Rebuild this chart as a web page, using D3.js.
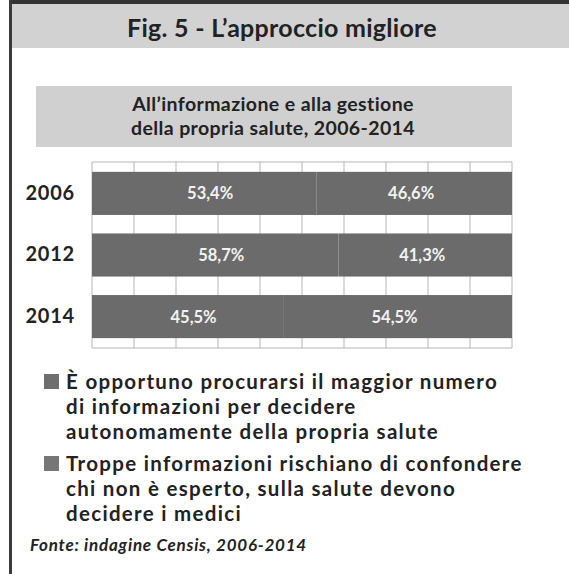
<!DOCTYPE html>
<html>
  <head>
    <meta charset="utf-8" />
    <title>Fig. 5 - L'approccio migliore</title>
    <style>
      html, body { margin: 0; padding: 0; background: #fff; }
      body { font-family: 'Lato', 'Open Sans', sans-serif; }
    </style>
    <script src="https://d3js.org/d3.v7.min.js"></script>
  </head>
  <body>
    <div id="chart"></div>
    <script>
      // data
      const years = ["2006", "2012", "2014"];
      const autonomi = [53.4, 58.7, 45.5];
      const medici = [46.6, 41.3, 54.5];
      const title = "Fig. 5 - L\u2019approccio migliore";
      const subtitle = ["All\u2019informazione e alla gestione", "della propria salute, 2006-2014"];
      const legendLines = [
        ["\u00C8 opportuno procurarsi il maggior numero", "di informazioni per decidere", "autonomamente della propria salute"],
        ["Troppe informazioni rischiano di confondere", "chi non \u00E8 esperto, sulla salute devono", "decidere i medici"]
      ];
      const source = "Fonte: indagine Censis, 2006-2014";

      const W = 569, H = 574;
      const svg = d3.select("#chart").append("svg")
        .attr("width", W).attr("height", H);

      // spread letters so a text reaches the width it has in the figure
      function spread(node, target) {
        const w = node.getComputedTextLength();
        const n = node.textContent.length;
        return (target - w) / n;
      }

      // frame: top rule, title band, left rule
      svg.append("rect").attr("x", 12).attr("y", 3).attr("width", W - 12).attr("height", 45)
        .attr("fill", "#d2d2d2");
      svg.append("rect").attr("x", 9).attr("y", 0).attr("width", W - 9).attr("height", 4)
        .attr("fill", "#333");
      svg.append("rect").attr("x", 9).attr("y", 0).attr("width", 3).attr("height", H)
        .attr("fill", "#3a3a3a");

      const t = svg.append("text")
        .attr("x", 282).attr("y", 37)
        .attr("text-anchor", "middle")
        .attr("font-size", 25).attr("font-weight", 700)
        .attr("fill", "#222")
        .text(title);
      t.attr("letter-spacing", spread(t.node(), 310));

      // subtitle box
      svg.append("rect").attr("x", 36).attr("y", 86).attr("width", 476).attr("height", 61)
        .attr("fill", "#d0d0d0");
      const sub = svg.append("g").selectAll("text").data(subtitle).join("text")
        .attr("x", 273).attr("y", (d, i) => 111 + i * 24)
        .attr("text-anchor", "middle")
        .attr("font-size", 19.5).attr("font-weight", 700)
        .attr("fill", "#222")
        .text(d => d);
      sub.attr("letter-spacing", spread(sub.node(), 282));

      // bar chart
      const x = d3.scaleLinear().domain([0, 100]).range([92, 512]);
      const y = d3.scaleBand().domain(years).range([162, 348])
        .paddingInner(0.3).paddingOuter(0.16);

      // grid
      const grid = svg.append("g");
      grid.selectAll("line.v").data(x.ticks(10)).join("line")
        .attr("class", "v")
        .attr("x1", d => x(d)).attr("x2", d => x(d))
        .attr("y1", 162).attr("y2", 348)
        .attr("stroke", "#b5b5b5").attr("stroke-width", 1);
      grid.selectAll("line.h").data([162, 348]).join("line")
        .attr("class", "h")
        .attr("x1", x(0)).attr("x2", x(100))
        .attr("y1", d => d).attr("y2", d => d)
        .attr("stroke", "#b5b5b5").attr("stroke-width", 1);

      const rows = years.map((yr, i) => ({ year: yr, a: autonomi[i], m: medici[i] }));
      const fmt = v => d3.format(".1f")(v).replace(".", ",") + "%";

      const row = svg.append("g").selectAll("g").data(rows).join("g");

      row.append("rect")
        .attr("x", x(0)).attr("y", d => y(d.year))
        .attr("width", d => x(d.a) - x(0)).attr("height", y.bandwidth())
        .attr("fill", "#6b6b6b");
      row.append("rect")
        .attr("x", d => x(d.a)).attr("y", d => y(d.year))
        .attr("width", d => x(d.a + d.m) - x(d.a)).attr("height", y.bandwidth())
        .attr("fill", "#6b6b6b");

      row.append("text")
        .attr("x", d => (x(0) + x(d.a)) / 2 + 6)
        .attr("y", d => y(d.year) + y.bandwidth() / 2 + 6)
        .attr("text-anchor", "middle")
        .attr("font-size", 16.5).attr("font-weight", 700)
        .attr("fill", "#f2f2f2")
        .text(d => fmt(d.a));
      row.append("text")
        .attr("x", d => (x(d.a) + x(d.a + d.m)) / 2 - 3)
        .attr("y", d => y(d.year) + y.bandwidth() / 2 + 6)
        .attr("text-anchor", "middle")
        .attr("font-size", 16.5).attr("font-weight", 700)
        .attr("fill", "#f2f2f2")
        .text(d => fmt(d.m));

      // year labels
      svg.append("g")
        .attr("transform", `translate(${x(0) - 17},0)`)
        .call(d3.axisLeft(y).tickSize(0).tickPadding(0))
        .call(g => g.select(".domain").remove())
        .call(g => g.selectAll("text")
          .attr("font-family", "'Lato', sans-serif")
          .attr("font-size", 20).attr("font-weight", 700)
          .attr("letter-spacing", 0.8)
          .attr("fill", "#222"));

      // legend
      const legendY = [389, 471];
      const legend = svg.append("g").selectAll("g").data(legendLines).join("g")
        .attr("transform", (d, i) => `translate(0,${legendY[i]})`);
      legend.append("rect")
        .attr("x", 44).attr("y", -15).attr("width", 15).attr("height", 15)
        .attr("fill", (d, i) => i === 0 ? "#6e6e6e" : "#767676");
      const legText = legend.append("text")
        .attr("font-size", 20.5).attr("font-weight", 700)
        .attr("fill", "#222");
      legText.selectAll("tspan").data(d => d).join("tspan")
        .attr("x", 66).attr("y", (d, i) => i * 25)
        .text(d => d);
      const firstLine = legText.select("tspan").node();
      legText.attr("letter-spacing", spread(firstLine, 432));

      const src = svg.append("text")
        .attr("x", 30).attr("y", 551)
        .attr("font-size", 17).attr("font-weight", 700).attr("font-style", "italic")
        .attr("fill", "#222")
        .text(source);
      src.attr("letter-spacing", spread(src.node(), 277));
    </script>
  </body>
</html>
